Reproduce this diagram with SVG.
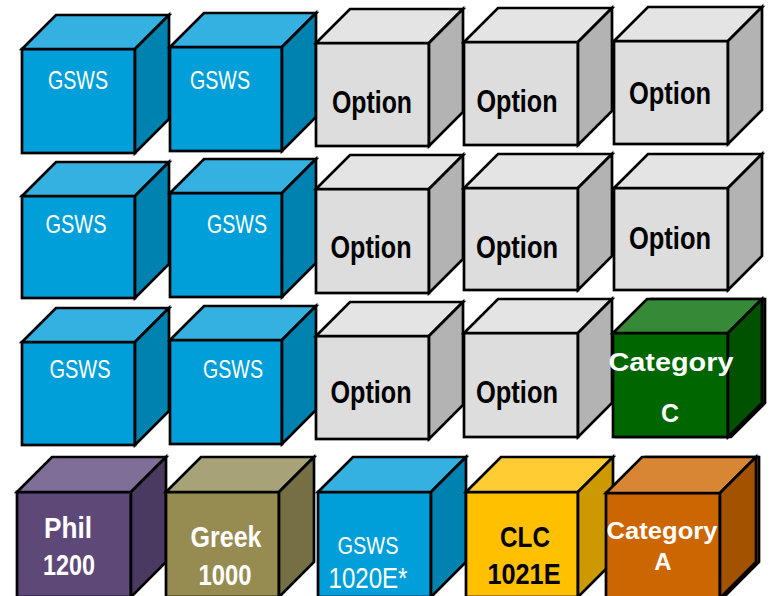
<svg xmlns="http://www.w3.org/2000/svg" width="771" height="596" viewBox="0 0 771 596">
<style>
  .edge{stroke:#000;stroke-width:2.7;stroke-linejoin:miter}
  .bF{fill:#009FDA}.bT{fill:#35B1E1}.bR{fill:#0082B0}
  .gF{fill:#DDDDDD}.gT{fill:#E4E4E4}.gR{fill:#B3B3B3}
  .grF{fill:#006600}.grT{fill:#368936}.grR{fill:#005200}
  .pF{fill:#5E4878}.pT{fill:#7F6E98}.pR{fill:#4A3A62}
  .oF{fill:#968C52}.oT{fill:#A8A278}.oR{fill:#776F44}
  .yF{fill:#FFC000}.yT{fill:#FFCC33}.yR{fill:#CC9A00}
  .orF{fill:#CC6600}.orT{fill:#D88634}.orR{fill:#A35200}
  .reg{font-family:"Liberation Sans Narrow","Liberation Sans",Arial,sans-serif;fill:#fff;text-anchor:middle}
  .bold{font-family:"Liberation Sans Narrow","Liberation Sans",Arial,sans-serif;font-weight:bold;text-anchor:middle}
  .cat{font-family:"Liberation Sans",Arial,sans-serif;font-weight:bold;fill:#fff;text-anchor:middle}
</style>
<rect width="771" height="596" fill="#fff"/>
<g id="connectors"/>

<!-- Row 1 -->
<g id="r1c1">
  <rect class="edge bF" x="22" y="49" width="113" height="104"/>
  <polygon class="edge bT" points="22,49 56,15 169,15 135,49"/>
  <polygon class="edge bR" points="135,49 169,15 169,119 135,153"/>
  <text class="reg" x="78" y="89" font-size="25" textLength="60" lengthAdjust="spacingAndGlyphs">GSWS</text>
</g>
<g id="r1c2">
  <rect class="edge bF" x="170" y="47" width="112" height="104"/>
  <polygon class="edge bT" points="170,47 204,13 316,13 282,47"/>
  <polygon class="edge bR" points="282,47 316,13 316,117 282,151"/>
  <text class="reg" x="220" y="89" font-size="25" textLength="60" lengthAdjust="spacingAndGlyphs">GSWS</text>
</g>
<g id="r1c3">
  <rect class="edge gF" x="316" y="43" width="113" height="103"/>
  <polygon class="edge gT" points="316,43 350,9 463,9 429,43"/>
  <polygon class="edge gR" points="429,43 463,9 463,112 429,146"/>
  <text class="bold" x="372" y="113" font-size="32" textLength="80" lengthAdjust="spacingAndGlyphs">Option</text>
</g>
<g id="r1c4">
  <rect class="edge gF" x="464" y="42" width="114" height="103"/>
  <polygon class="edge gT" points="464,42 498,8 612,8 578,42"/>
  <polygon class="edge gR" points="578,42 612,8 612,111 578,145"/>
  <text class="bold" x="517" y="112" font-size="32" textLength="81" lengthAdjust="spacingAndGlyphs">Option</text>
</g>
<g id="r1c5">
  <rect class="edge gF" x="614" y="41" width="114" height="103"/>
  <polygon class="edge gT" points="614,41 648,7 762,7 728,41"/>
  <polygon class="edge gR" points="728,41 762,7 762,110 728,144"/>
  <text class="bold" x="670" y="104" font-size="32" textLength="82" lengthAdjust="spacingAndGlyphs">Option</text>
</g>

<!-- Row 2 -->
<g id="r2c1">
  <rect class="edge bF" x="22" y="196" width="113" height="102"/>
  <polygon class="edge bT" points="22,196 56,162 169,162 135,196"/>
  <polygon class="edge bR" points="135,196 169,162 169,264 135,298"/>
  <text class="reg" x="76" y="233" font-size="25" textLength="61" lengthAdjust="spacingAndGlyphs">GSWS</text>
</g>
<g id="r2c2">
  <rect class="edge bF" x="170" y="193" width="112" height="104"/>
  <polygon class="edge bT" points="170,193 204,159 316,159 282,193"/>
  <polygon class="edge bR" points="282,193 316,159 316,263 282,297"/>
  <text class="reg" x="237" y="233" font-size="25" textLength="60" lengthAdjust="spacingAndGlyphs">GSWS</text>
</g>
<g id="r2c3">
  <rect class="edge gF" x="316" y="189" width="113" height="104"/>
  <polygon class="edge gT" points="316,189 350,155 463,155 429,189"/>
  <polygon class="edge gR" points="429,189 463,155 463,259 429,293"/>
  <text class="bold" x="371" y="258" font-size="32" textLength="81" lengthAdjust="spacingAndGlyphs">Option</text>
</g>
<g id="r2c4">
  <rect class="edge gF" x="464" y="188" width="114" height="102"/>
  <polygon class="edge gT" points="464,188 498,154 612,154 578,188"/>
  <polygon class="edge gR" points="578,188 612,154 612,256 578,290"/>
  <text class="bold" x="517" y="258" font-size="32" textLength="82" lengthAdjust="spacingAndGlyphs">Option</text>
</g>
<g id="r2c5">
  <rect class="edge gF" x="614" y="188" width="114" height="102"/>
  <polygon class="edge gT" points="614,188 648,154 762,154 728,188"/>
  <polygon class="edge gR" points="728,188 762,154 762,256 728,290"/>
  <text class="bold" x="670" y="249" font-size="32" textLength="82" lengthAdjust="spacingAndGlyphs">Option</text>
</g>

<!-- Row 3 -->
<g id="r3c1">
  <rect class="edge bF" x="22" y="342" width="113" height="103"/>
  <polygon class="edge bT" points="22,342 56,308 169,308 135,342"/>
  <polygon class="edge bR" points="135,342 169,308 169,411 135,445"/>
  <text class="reg" x="80" y="378" font-size="25" textLength="61" lengthAdjust="spacingAndGlyphs">GSWS</text>
</g>
<g id="r3c2">
  <rect class="edge bF" x="170" y="340" width="112" height="104"/>
  <polygon class="edge bT" points="170,340 204,306 316,306 282,340"/>
  <polygon class="edge bR" points="282,340 316,306 316,410 282,444"/>
  <text class="reg" x="233" y="378" font-size="25" textLength="60" lengthAdjust="spacingAndGlyphs">GSWS</text>
</g>
<g id="r3c3">
  <rect class="edge gF" x="316" y="336" width="113" height="103"/>
  <polygon class="edge gT" points="316,336 350,302 463,302 429,336"/>
  <polygon class="edge gR" points="429,336 463,302 463,405 429,439"/>
  <text class="bold" x="371" y="403" font-size="32" textLength="81" lengthAdjust="spacingAndGlyphs">Option</text>
</g>
<g id="r3c4">
  <rect class="edge gF" x="464" y="333" width="114" height="104"/>
  <polygon class="edge gT" points="464,333 498,299 612,299 578,333"/>
  <polygon class="edge gR" points="578,333 612,299 612,403 578,437"/>
  <text class="bold" x="517" y="403" font-size="32" textLength="82" lengthAdjust="spacingAndGlyphs">Option</text>
</g>
<g id="r3c5">
  <polygon class="edge grR" points="616,333 650,299 765,299 765,403 731,437 616,437"/>
  <rect class="edge grF" x="613" y="333" width="115" height="104"/>
  <polygon class="edge grT" points="613,333 647,299 762,299 728,333"/>
  <polygon class="edge grR" points="728,333 762,299 762,403 728,437"/>
  <text class="cat" x="671" y="371" font-size="25" textLength="125" lengthAdjust="spacingAndGlyphs">Category</text>
  <text class="cat" x="670" y="422" font-size="25">C</text>
</g>

<!-- Row 4 -->
<g id="phil1200">
  <rect class="edge pF" x="17" y="492" width="114" height="105"/>
  <polygon class="edge pT" points="17,492 52,457 166,457 131,492"/>
  <polygon class="edge pR" points="131,492 166,457 166,562 131,597"/>
  <text class="bold" x="68" y="538" font-size="30" fill="#fff" textLength="48" lengthAdjust="spacingAndGlyphs">Phil</text>
  <text class="bold" x="69" y="575" font-size="30" fill="#fff" textLength="52" lengthAdjust="spacingAndGlyphs">1200</text>
</g>
<g id="greek1000">
  <rect class="edge oF" x="166" y="492" width="113" height="105"/>
  <polygon class="edge oT" points="166,492 201,457 314,457 279,492"/>
  <polygon class="edge oR" points="279,492 314,457 314,562 279,597"/>
  <text class="bold" x="226" y="547" font-size="30" fill="#fff" textLength="71" lengthAdjust="spacingAndGlyphs">Greek</text>
  <text class="bold" x="225" y="585" font-size="30" fill="#fff" textLength="53" lengthAdjust="spacingAndGlyphs">1000</text>
</g>
<g id="gsws1020e">
  <rect class="edge bF" x="318" y="492" width="113" height="105"/>
  <polygon class="edge bT" points="318,492 353,457 466,457 431,492"/>
  <polygon class="edge bR" points="431,492 466,457 466,562 431,597"/>
  <text class="reg" x="368" y="554" font-size="23" textLength="61" lengthAdjust="spacingAndGlyphs">GSWS</text>
  <text class="reg" x="368" y="588" font-size="29" textLength="79" lengthAdjust="spacingAndGlyphs">1020E*</text>
</g>
<g id="clc1021e">
  <rect class="edge yF" x="466" y="492" width="112" height="105"/>
  <polygon class="edge yT" points="466,492 501,457 613,457 578,492"/>
  <polygon class="edge yR" points="578,492 613,457 613,562 578,597"/>
  <text class="bold" x="525" y="547" font-size="30" fill="#000" textLength="50" lengthAdjust="spacingAndGlyphs">CLC</text>
  <text class="bold" x="524" y="584" font-size="30" fill="#000" textLength="73" lengthAdjust="spacingAndGlyphs">1021E</text>
</g>
<g id="categoryA">
  <polygon class="edge orR" points="609,493 645,457 759,457 759,562 723,598 609,598"/>
  <rect class="edge orF" x="606" y="493" width="114" height="105"/>
  <polygon class="edge orT" points="606,493 642,457 756,457 720,493"/>
  <polygon class="edge orR" points="720,493 756,457 756,562 720,598"/>
  <text class="cat" x="662" y="539" font-size="24" textLength="111" lengthAdjust="spacingAndGlyphs">Category</text>
  <text class="cat" x="663" y="570" font-size="24">A</text>
</g>
</svg>
